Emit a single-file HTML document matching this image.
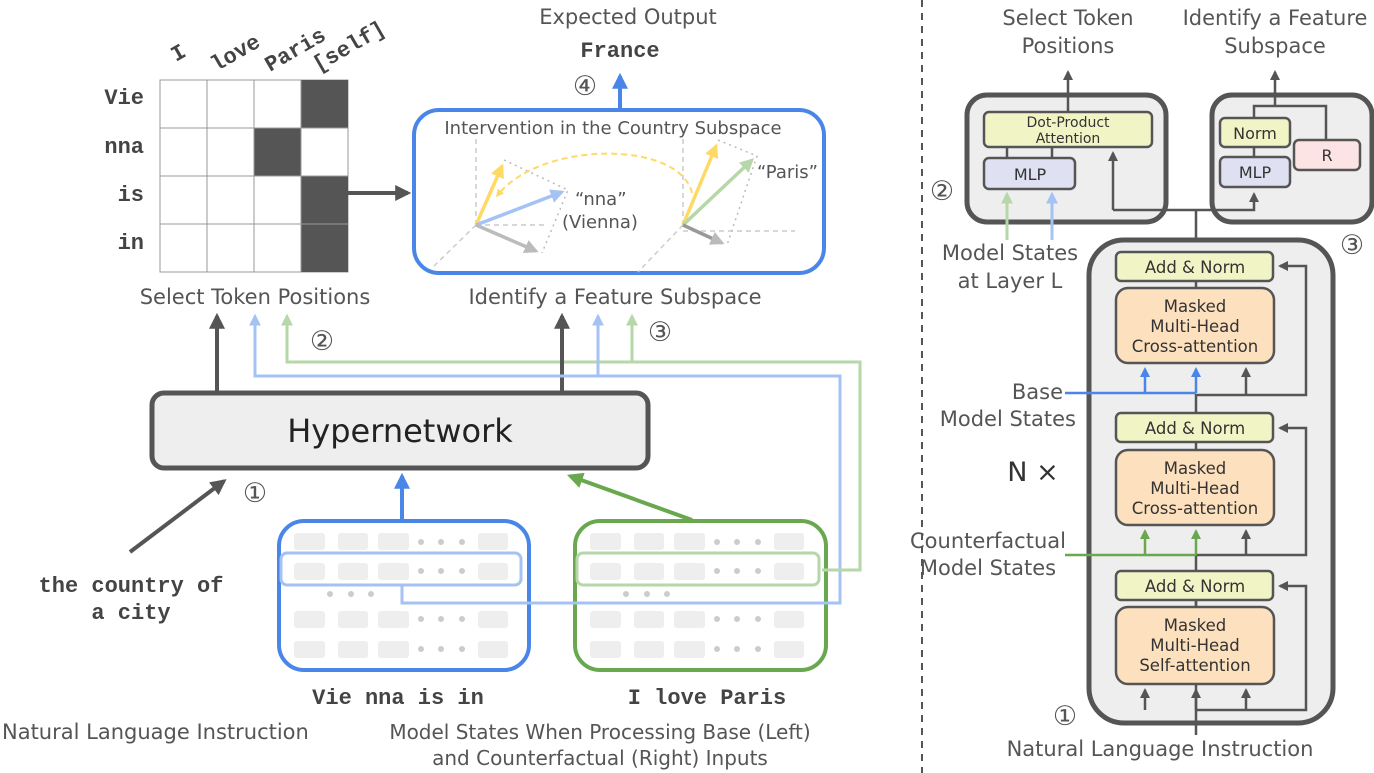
<!DOCTYPE html>
<html><head><meta charset="utf-8"><style>
html,body{margin:0;padding:0;background:#fff}
svg{display:block}
text{font-family:"DejaVu Sans","Liberation Sans",sans-serif;fill:#555}
.m{font-family:"Liberation Mono","DejaVu Sans Mono",monospace;font-weight:bold;fill:#444}
</style></head><body>
<svg width="1374" height="773" viewBox="0 0 1374 773" xmlns="http://www.w3.org/2000/svg">
<defs>
<marker id="ad" viewBox="0 0 10 10" refX="8" refY="5" markerWidth="4" markerHeight="4" orient="auto-start-reverse"><path d="M0,0L10,5L0,10z" fill="#555"/></marker>
<marker id="ab" viewBox="0 0 10 10" refX="8" refY="5" markerWidth="4" markerHeight="4" orient="auto"><path d="M0,0L10,5L0,10z" fill="#4a86e8"/></marker>
<marker id="alb" viewBox="0 0 10 10" refX="8" refY="5" markerWidth="4" markerHeight="4" orient="auto"><path d="M0,0L10,5L0,10z" fill="#a4c2f4"/></marker>
<marker id="ag" viewBox="0 0 10 10" refX="8" refY="5" markerWidth="4" markerHeight="4" orient="auto"><path d="M0,0L10,5L0,10z" fill="#6aa84f"/></marker>
<marker id="alg" viewBox="0 0 10 10" refX="8" refY="5" markerWidth="4" markerHeight="4" orient="auto"><path d="M0,0L10,5L0,10z" fill="#b6d7a8"/></marker>
<marker id="ay" viewBox="0 0 10 10" refX="8" refY="5" markerWidth="4" markerHeight="4" orient="auto"><path d="M0,0L10,5L0,10z" fill="#ffd966"/></marker>
<marker id="agr" viewBox="0 0 10 10" refX="8" refY="5" markerWidth="4" markerHeight="4" orient="auto"><path d="M0,0L10,5L0,10z" fill="#bbb"/></marker>
</defs>

<!-- grid -->
<rect x="160" y="80" width="188" height="192" stroke="#999" stroke-width="1" fill="#fff"/>
<g fill="#555">
<rect x="301" y="80" width="47" height="48"/>
<rect x="254" y="128" width="47" height="48"/>
<rect x="301" y="176" width="47" height="96"/>
</g>
<g stroke="#999" stroke-width="1">
<line x1="207" y1="80" x2="207" y2="272"/><line x1="254" y1="80" x2="254" y2="272"/><line x1="301" y1="80" x2="301" y2="272"/>
<line x1="160" y1="128" x2="348" y2="128"/><line x1="160" y1="176" x2="348" y2="176"/><line x1="160" y1="224" x2="348" y2="224"/>
</g>
<g font-size="22" text-anchor="end">
<text class="m" x="144" y="104">Vie</text><text class="m" x="144" y="153">nna</text>
<text class="m" x="144" y="201">is</text><text class="m" x="144" y="249">in</text>
</g>
<g font-size="22">
<text class="m" transform="translate(176,62) rotate(-30)">I</text>
<text class="m" transform="translate(216,72) rotate(-30)">love</text>
<text class="m" transform="translate(270,72) rotate(-30)">Paris</text>
<text class="m" transform="translate(318,72) rotate(-30)">[self]</text>
</g>
<line x1="348" y1="193" x2="408" y2="193" stroke="#555" stroke-width="4" marker-end="url(#ad)"/>

<!-- intervention box -->
<text x="628" y="24" font-size="21" text-anchor="middle">Expected Output</text>
<text class="m" x="620" y="57" font-size="22" text-anchor="middle">France</text>
<text x="585" y="95" font-size="27" text-anchor="middle">④</text>
<line x1="620" y1="110" x2="620" y2="76" stroke="#4a86e8" stroke-width="4" marker-end="url(#ab)"/>
<rect x="414" y="110" width="410" height="163" rx="25" fill="#fff" stroke="#4a86e8" stroke-width="4"/>
<text x="613" y="134" font-size="18" text-anchor="middle">Intervention in the Country Subspace</text>
<g stroke="#ccc" stroke-width="1.5" stroke-dasharray="5,4" fill="none">
<path d="M476,225V137M476,225H545M476,225L434,266"/>
<path d="M683,225V137M683,231H795M683,225L638,272"/>
</g>
<g stroke="#bbb" stroke-width="1.5" stroke-dasharray="2,4" fill="none">
<path d="M504,160L568,190L542,253"/>
<path d="M718,140L757,156L727,245"/>
</g>
<path d="M692,193C680,140 540,140 497,196" stroke="#ffd966" stroke-width="2" stroke-dasharray="6,4" fill="none" marker-end="url(#ay)"/>
<g stroke-width="3.5" fill="none">
<line x1="476" y1="225" x2="502" y2="166" stroke="#ffd966" marker-end="url(#ay)"/>
<line x1="476" y1="225" x2="562" y2="192" stroke="#a4c2f4" marker-end="url(#alb)"/>
<line x1="476" y1="225" x2="536" y2="251" stroke="#bbb" marker-end="url(#agr)"/>
<line x1="683" y1="225" x2="716" y2="146" stroke="#ffd966" marker-end="url(#ay)"/>
<line x1="683" y1="225" x2="752" y2="160" stroke="#b6d7a8" marker-end="url(#alg)"/>
<line x1="683" y1="225" x2="722" y2="243" stroke="#999" marker-end="url(#agr)"/>
</g>
<text x="575" y="205" font-size="18">“nna”</text>
<text x="562" y="228" font-size="18">(Vienna)</text>
<text x="757" y="178" font-size="18">“Paris”</text>

<text x="255" y="304" font-size="21" text-anchor="middle">Select Token Positions</text>
<text x="615" y="304" font-size="21" text-anchor="middle">Identify a Feature Subspace</text>

<!-- colored feed lines (upper parts) -->
<path d="M287,316V362H860V570H822" stroke="#b6d7a8" stroke-width="3" fill="none"/>
<line x1="632" y1="362" x2="632" y2="316" stroke="#b6d7a8" stroke-width="3" marker-end="url(#alg)"/>
<line x1="287" y1="330" x2="287" y2="316" stroke="#b6d7a8" stroke-width="3" marker-end="url(#alg)"/>
<line x1="598" y1="376" x2="598" y2="316" stroke="#a4c2f4" stroke-width="3" marker-end="url(#alb)"/>
<line x1="255" y1="330" x2="255" y2="316" stroke="#a4c2f4" stroke-width="3" marker-end="url(#alb)"/>
<line x1="217" y1="393" x2="217" y2="316" stroke="#555" stroke-width="4" marker-end="url(#ad)"/>
<line x1="562" y1="393" x2="562" y2="316" stroke="#555" stroke-width="4" marker-end="url(#ad)"/>
<text x="322" y="350" font-size="27" text-anchor="middle">②</text>
<text x="660" y="341" font-size="27" text-anchor="middle">③</text>

<rect x="152" y="393" width="496" height="75" rx="12" fill="#eee" stroke="#555" stroke-width="5"/>
<text x="400" y="442" font-size="32" text-anchor="middle" style="fill:#222">Hypernetwork</text>

<line x1="130" y1="552" x2="224" y2="481" stroke="#555" stroke-width="4" marker-end="url(#ad)"/>
<text x="255" y="502" font-size="27" text-anchor="middle">①</text>
<text class="m" x="131" y="592" font-size="22" text-anchor="middle">the country of</text>
<text class="m" x="131" y="619" font-size="22" text-anchor="middle">a city</text>
<text x="2" y="739" font-size="21">Natural Language Instruction</text>

<line x1="402" y1="520" x2="402" y2="476" stroke="#4a86e8" stroke-width="4" marker-end="url(#ab)"/>
<line x1="692" y1="520" x2="570" y2="476" stroke="#6aa84f" stroke-width="4" marker-end="url(#ag)"/>

<!-- model state boxes -->
<rect x="279" y="521" width="250" height="149" rx="25" fill="#fff" stroke="#4a86e8" stroke-width="4"/>
<rect x="575" y="521" width="251" height="149" rx="25" fill="#fff" stroke="#6aa84f" stroke-width="4"/>
<g fill="#eee">
<g id="rowsL">
<rect x="294" y="533" width="31" height="17" rx="3"/><rect x="338" y="533" width="30" height="17" rx="3"/><rect x="378" y="533" width="31" height="17" rx="3"/><rect x="478" y="533" width="30" height="17" rx="3"/>
<rect x="294" y="563" width="31" height="17" rx="3"/><rect x="338" y="563" width="30" height="17" rx="3"/><rect x="378" y="563" width="31" height="17" rx="3"/><rect x="478" y="563" width="30" height="17" rx="3"/>
<rect x="294" y="611" width="31" height="17" rx="3"/><rect x="338" y="611" width="30" height="17" rx="3"/><rect x="378" y="611" width="31" height="17" rx="3"/><rect x="478" y="611" width="30" height="17" rx="3"/>
<rect x="294" y="641" width="31" height="17" rx="3"/><rect x="338" y="641" width="30" height="17" rx="3"/><rect x="378" y="641" width="31" height="17" rx="3"/><rect x="478" y="641" width="30" height="17" rx="3"/>
</g>
<use href="#rowsL" x="296"/>
</g>
<g fill="#ccc" id="dotsL">
<circle cx="421" cy="542" r="3"/><circle cx="441" cy="542" r="3"/><circle cx="462" cy="542" r="3"/>
<circle cx="421" cy="571" r="3"/><circle cx="441" cy="571" r="3"/><circle cx="462" cy="571" r="3"/>
<circle cx="421" cy="619" r="3"/><circle cx="441" cy="619" r="3"/><circle cx="462" cy="619" r="3"/>
<circle cx="421" cy="649" r="3"/><circle cx="441" cy="649" r="3"/><circle cx="462" cy="649" r="3"/>
<circle cx="330" cy="594" r="3"/><circle cx="351" cy="594" r="3"/><circle cx="371" cy="594" r="3"/>
</g>
<use href="#dotsL" x="296"/>
<rect x="281" y="553" width="240" height="32" rx="6" fill="none" stroke="#a4c2f4" stroke-width="3"/>
<rect x="577" y="553" width="242" height="32" rx="6" fill="none" stroke="#b6d7a8" stroke-width="3"/>
<path d="M255,316V376H840V603H402V586" stroke="#a4c2f4" stroke-width="3" fill="none"/>
<path d="M822,570H860" stroke="#b6d7a8" stroke-width="3"/>
<text class="m" x="398" y="704" font-size="22" text-anchor="middle">Vie nna is in</text>
<text class="m" x="707" y="704" font-size="22" text-anchor="middle">I love Paris</text>
<text x="600" y="739" font-size="20" text-anchor="middle">Model States When Processing Base (Left)</text>
<text x="600" y="765" font-size="20" text-anchor="middle">and Counterfactual (Right) Inputs</text>

<line x1="922" y1="0" x2="922" y2="773" stroke="#555" stroke-width="2" stroke-dasharray="7,6"/>

<!-- right side -->
<text x="1068" y="25" font-size="21" text-anchor="middle">Select Token</text>
<text x="1068" y="53" font-size="21" text-anchor="middle">Positions</text>
<text x="1275" y="25" font-size="21" text-anchor="middle">Identify a Feature</text>
<text x="1275" y="53" font-size="21" text-anchor="middle">Subspace</text>

<rect x="967" y="95" width="199" height="127" rx="20" fill="#eee" stroke="#555" stroke-width="5"/>
<rect x="1212" y="95" width="160" height="127" rx="20" fill="#eee" stroke="#555" stroke-width="5"/>
<line x1="1068" y1="112" x2="1068" y2="72" stroke="#555" stroke-width="2.5" marker-end="url(#ad)"/>
<path d="M1254,118V106H1326V140" stroke="#555" stroke-width="2.5" fill="none"/>
<line x1="1275" y1="106" x2="1275" y2="72" stroke="#555" stroke-width="2.5" marker-end="url(#ad)"/>
<path d="M1007,158V146M1052,158V146M1254,157V147" stroke="#555" stroke-width="2.5"/>
<rect x="984" y="112" width="168" height="35" rx="5" fill="#f1f5c6" stroke="#555" stroke-width="2.5"/>
<text x="1068" y="127" font-size="14" text-anchor="middle" style="fill:#333">Dot-Product</text>
<text x="1068" y="143" font-size="14" text-anchor="middle" style="fill:#333">Attention</text>
<rect x="984" y="158" width="91" height="31" rx="5" fill="#dfe0f2" stroke="#555" stroke-width="2.5"/>
<text x="1030" y="180" font-size="16" text-anchor="middle" style="fill:#333">MLP</text>
<rect x="1220" y="118" width="70" height="29" rx="5" fill="#f1f5c6" stroke="#555" stroke-width="2.5"/>
<text x="1255" y="139" font-size="16" text-anchor="middle" style="fill:#333">Norm</text>
<rect x="1220" y="157" width="70" height="30" rx="5" fill="#dfe0f2" stroke="#555" stroke-width="2.5"/>
<text x="1255" y="178" font-size="16" text-anchor="middle" style="fill:#333">MLP</text>
<rect x="1294" y="140" width="66" height="30" rx="5" fill="#fde4e4" stroke="#555" stroke-width="2.5"/>
<text x="1327" y="161" font-size="16" text-anchor="middle" style="fill:#333">R</text>
<path d="M1113,210H1254V194" stroke="#555" stroke-width="2.5" fill="none" marker-end="url(#ad)"/>
<line x1="1113" y1="210" x2="1113" y2="153" stroke="#555" stroke-width="2.5" marker-end="url(#ad)"/>
<line x1="1196" y1="210" x2="1196" y2="252" stroke="#555" stroke-width="2.5"/>
<line x1="1007" y1="240" x2="1007" y2="194" stroke="#b6d7a8" stroke-width="3" marker-end="url(#alg)"/>
<line x1="1052" y1="240" x2="1052" y2="194" stroke="#a4c2f4" stroke-width="3" marker-end="url(#alb)"/>
<text x="942" y="200" font-size="27" text-anchor="middle">②</text>
<text x="1010" y="260" font-size="21" text-anchor="middle">Model States</text>
<text x="1010" y="288" font-size="21" text-anchor="middle">at Layer L</text>

<!-- transformer -->
<rect x="1089" y="240" width="244" height="483" rx="35" fill="#eee" stroke="#555" stroke-width="5"/>
<text x="1352" y="254" font-size="27" text-anchor="middle">③</text>
<g stroke="#555" stroke-width="2.5" fill="none">
<path d="M1196,735V684"/>
<path d="M1196,710H1306V586H1280" marker-end="url(#ad)"/>
<path d="M1145,710V690" marker-end="url(#ad)"/>
<path d="M1246,710V690" marker-end="url(#ad)"/>
<path d="M1196,710V690" marker-end="url(#ad)"/>
<path d="M1196,571V607"/>
<path d="M1196,571V555H1306V428H1280" marker-end="url(#ad)"/>
<path d="M1246,555V531" marker-end="url(#ad)"/>
<path d="M1196,413V442M1196,413V395H1306V266H1280" marker-end="url(#ad)"/>
<path d="M1246,395V369" marker-end="url(#ad)"/>
<path d="M1196,281V288M1196,442V450M1196,600V607"/>
</g>
<path d="M1065,393H1196" stroke="#4a86e8" stroke-width="2.5" fill="none"/>
<line x1="1145" y1="393" x2="1145" y2="369" stroke="#4a86e8" stroke-width="2.5" marker-end="url(#ab)"/>
<line x1="1196" y1="393" x2="1196" y2="369" stroke="#4a86e8" stroke-width="2.5" marker-end="url(#ab)"/>
<path d="M1065,555H1196" stroke="#6aa84f" stroke-width="2.5" fill="none"/>
<line x1="1145" y1="555" x2="1145" y2="531" stroke="#6aa84f" stroke-width="2.5" marker-end="url(#ag)"/>
<line x1="1196" y1="555" x2="1196" y2="531" stroke="#6aa84f" stroke-width="2.5" marker-end="url(#ag)"/>
<g stroke="#555" stroke-width="2.5">
<rect x="1116" y="252" width="157" height="29" rx="5" fill="#f1f5c6"/>
<rect x="1116" y="288" width="158" height="75" rx="12" fill="#fde0bd"/>
<rect x="1116" y="413" width="157" height="29" rx="5" fill="#f1f5c6"/>
<rect x="1116" y="450" width="158" height="75" rx="12" fill="#fde0bd"/>
<rect x="1116" y="571" width="157" height="29" rx="5" fill="#f1f5c6"/>
<rect x="1116" y="607" width="158" height="77" rx="12" fill="#fde0bd"/>
</g>
<g font-size="16.5" text-anchor="middle">
<text x="1195" y="273" style="fill:#333">Add &amp; Norm</text>
<text x="1195" y="312" style="fill:#333">Masked</text><text x="1195" y="332" style="fill:#333">Multi-Head</text><text x="1195" y="352" style="fill:#333">Cross-attention</text>
<text x="1195" y="434" style="fill:#333">Add &amp; Norm</text>
<text x="1195" y="474" style="fill:#333">Masked</text><text x="1195" y="494" style="fill:#333">Multi-Head</text><text x="1195" y="514" style="fill:#333">Cross-attention</text>
<text x="1195" y="592" style="fill:#333">Add &amp; Norm</text>
<text x="1195" y="631" style="fill:#333">Masked</text><text x="1195" y="651" style="fill:#333">Multi-Head</text><text x="1195" y="671" style="fill:#333">Self-attention</text>
</g>
<text x="1063" y="399" font-size="21" text-anchor="end">Base</text>
<text x="1076" y="426" font-size="21" text-anchor="end">Model States</text>
<text x="1033" y="481" font-size="27" text-anchor="middle" style="fill:#333">N ×</text>
<text x="988" y="548" font-size="21" text-anchor="middle">Counterfactual</text>
<text x="988" y="575" font-size="21" text-anchor="middle">Model States</text>
<text x="1065" y="725" font-size="27" text-anchor="middle">①</text>
<text x="1160" y="756" font-size="21" text-anchor="middle">Natural Language Instruction</text>
</svg>
</body></html>
